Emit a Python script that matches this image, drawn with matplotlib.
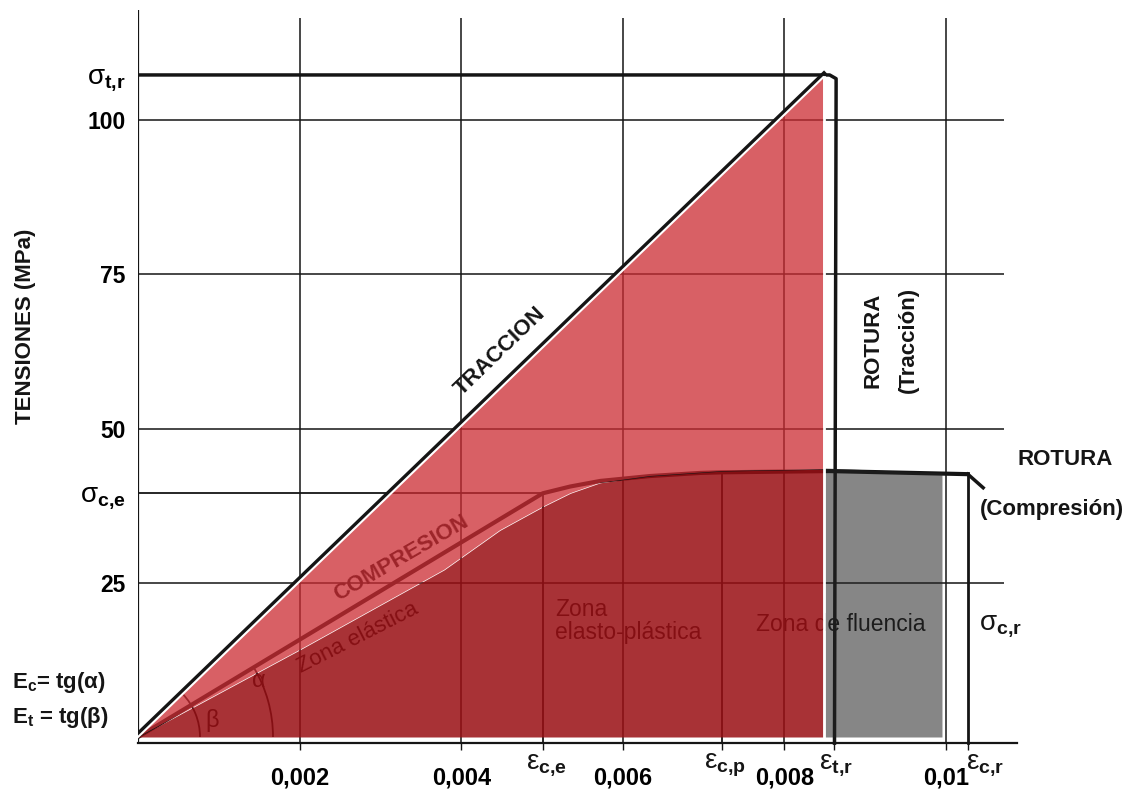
import matplotlib
matplotlib.use('Agg')
import matplotlib.pyplot as plt
from matplotlib.patches import Arc
from matplotlib.transforms import offset_copy
import numpy as np

plt.rcParams['font.family'] = ['Liberation Sans', 'DejaVu Sans']
plt.rcParams['mathtext.fontset'] = 'custom'
plt.rcParams['mathtext.rm'] = 'Liberation Sans'
plt.rcParams['mathtext.bf'] = 'Liberation Sans:bold'
plt.rcParams['mathtext.it'] = 'Liberation Sans:italic'

# ---- data (strain [-], stress [MPa]) ----
grid_x = [0.002, 0.004, 0.006, 0.008, 0.010]
grid_x_labels = ['0,002', '0,004', '0,006', '0,008', '0,01']
grid_y = [25, 50, 75, 100]

# traccion: straight line up to rupture
strain_trac = [0.0, 0.00851]
stress_trac = [0.0, 107.3]
sig_tr = 107.3
eps_tr = 0.00862

# compresion curve (black line)
strain_comp = [0.0, 0.00501, 0.00535, 0.00572, 0.00634, 0.00696, 0.00723, 0.00856, 0.01027]
stress_comp = [0.0, 39.5, 40.6, 41.5, 42.3, 42.8, 42.9, 43.1, 42.6]
eps_ce, sig_ce = 0.00501, 39.5
eps_cp, sig_cp = 0.00723, 42.9
eps_cr, sig_cr = 0.01027, 42.6
hook_strain = [0.01027, 0.01046]
hook_stress = [42.6, 40.4]

# coloured zones
strain_fill = [0.0, 0.0020, 0.00379, 0.00448, 0.00501, 0.00535, 0.00572, 0.00634, 0.00723, 0.00848]
stress_fill = [0.0, 14.1, 27.1, 33.5, 37.3, 39.5, 41.2, 42.3, 43.1, 43.4]
strain_gray = [0.0085, 0.00995]
stress_gray = [43.6, 42.8]

# ---- figure geometry (pixels) ----
W, H = 1127, 791
PX_X = 80800.0   # px per unit strain
PX_Y = 6.17      # px per MPa
x0_px, y0_px = 138, 737
xlim = (0.0, 0.0111)
ylim = (-1.5, 117.8)

fig = plt.figure(figsize=(W / 100, H / 100), dpi=100)
bottom_px = y0_px - ylim[0] * PX_Y
ax = fig.add_axes([x0_px / W, 1 - bottom_px / H,
                   (xlim[1] - xlim[0]) * PX_X / W,
                   (ylim[1] - ylim[0]) * PX_Y / H])
ax.set_xlim(xlim)
ax.set_ylim(ylim)

ink = '#151515'
ax_y = -1.0

# grid
ax.vlines(grid_x, ax_y, 116.5, color=ink, lw=1.1, zorder=1)
ax.hlines(grid_y, 0, 0.01072, color=ink, lw=1.1, zorder=1)
ax.vlines(0, ax_y, ylim[1], color=ink, lw=1.6, zorder=1)

# axis
for s in ['top', 'right', 'left']:
    ax.spines[s].set_visible(False)
ax.spines['bottom'].set_position(('data', ax_y))
ax.spines['bottom'].set_bounds(0, 0.01088)
ax.spines['bottom'].set_linewidth(1.6)
ax.spines['bottom'].set_color(ink)
ax.set_xticks(grid_x, labels=grid_x_labels)
ax.set_xticks([eps_ce, eps_cp, eps_tr, eps_cr], minor=True)
ax.tick_params(axis='x', which='both', length=5, width=1, color=ink, direction='out', pad=12)
for lbl in ax.get_xticklabels():
    lbl.set_fontsize(17)
    lbl.set_fontweight('bold')

ax.set_yticks([sig_ce] + grid_y + [sig_tr],
              labels=['σ$_{\\mathbf{c{,}e}}$', '25', '50', '75', '100', 'σ$_{\\mathbf{t{,}r}}$'])
ax.tick_params(axis='y', length=0, pad=9)
for lbl in ax.get_yticklabels():
    if lbl.get_text().startswith('σ'):
        lbl.set_fontsize(20)
    else:
        lbl.set_fontsize(16.5)
        lbl.set_fontweight('bold')

# black drawing lines
up_left = offset_copy(ax.transData, fig=fig, x=-1.6, y=1.6, units='dots')
ax.plot(strain_trac, stress_trac, color=ink, lw=3, zorder=2, transform=up_left)
ax.plot([0, eps_tr - 0.00006, eps_tr + 0.00002, eps_tr + 0.00002, eps_tr],
        [sig_tr, sig_tr, sig_tr - 0.6, sig_tr - 1.8, ax_y],
        color=ink, lw=2.5, zorder=2, solid_joinstyle='round')
ax.plot(strain_comp, stress_comp, color=ink, lw=3, zorder=2)
ax.plot(hook_strain, hook_stress, color=ink, lw=2.5, zorder=2)
ax.plot([eps_cr, eps_cr], [ax_y, sig_cr], color=ink, lw=2, zorder=2)
ax.plot([0, eps_ce], [sig_ce, sig_ce], color=ink, lw=1.3, zorder=2)
ax.plot([eps_ce, eps_ce], [ax_y, sig_ce], color=ink, lw=1.3, zorder=2)
ax.plot([eps_cp, eps_cp], [ax_y, sig_cp], color=ink, lw=1.3, zorder=2)

# angle arcs (Arc angles are taken in data space)
ang_t = np.degrees(np.arctan2(stress_trac[1], strain_trac[1]))
ang_c = np.degrees(np.arctan2(sig_ce, eps_ce))
for r, ang in [(62, ang_t), (135, ang_c)]:
    ax.add_patch(Arc((0, 0), 2 * r / PX_X, 2 * r / PX_Y, theta1=0, theta2=ang,
                     color=ink, lw=1.3, zorder=2))

# texts lying under the coloured overlay
ax.text(0.00326, 29.0, 'COMPRESION', rotation=30, fontsize=16, fontweight='bold',
        color=ink, ha='center', va='center', zorder=2)
ax.text(0.00272, 16.0, 'Zona elástica', rotation=27, fontsize=16,
        color=ink, ha='center', va='center', zorder=2)
ax.text(0.00516, 18.8, 'Zona\nelasto-plástica', fontsize=16.5, color=ink,
        ha='left', va='center', linespacing=1.0, zorder=2)
ax.text(0.0087, 18.2, 'Zona de fluencia', fontsize=16.5, color=ink,
        ha='center', va='center', zorder=2)
ax.text(0.00149, 9.0, 'α', fontsize=17, color=ink, ha='center', va='center', zorder=2)
ax.text(0.00092, 2.6, 'β', fontsize=17, color=ink, ha='center', va='center', zorder=2)

# coloured zones (semi transparent over the drawing)
x_red = strain_fill[-1]
y_red_top = np.interp(x_red, strain_trac, stress_trac)
light_x = [0.0, x_red, x_red] + strain_fill[::-1]
light_y = [0.0, y_red_top, stress_fill[-1]] + stress_fill[::-1]
ax.fill(light_x, light_y, color=(204 / 255, 43 / 255, 50 / 255), alpha=0.75, lw=0, zorder=3)
ax.fill_between(strain_fill, 0, stress_fill, color=(153 / 255, 14 / 255, 19 / 255),
                alpha=0.85, lw=0, zorder=3)
ax.fill_between(strain_gray, 0, stress_gray, color='#232323', alpha=0.55, lw=0, zorder=3)
ax.plot([0, x_red], [0, y_red_top], color='white', lw=1.5, zorder=4)
ax.plot([x_red + 0.00001] * 2, [0, y_red_top], color='white', lw=2, zorder=4)

# labels
lab = dict(fontsize=16, fontweight='bold', color=ink, ha='center', va='center', zorder=5)
ax.text(0.00448, 62.5, 'TRACCION', rotation=44, **lab)
ax.text(0.0091, 64.3, 'ROTURA', rotation=90, **lab)
ax.text(0.00953, 64.3, '(Tracción)', rotation=90, **lab)
ax.text(0.01147, 44.9, 'ROTURA', **lab)
ax.text(0.01131, 36.8, '(Compresión)', **lab)
ax.text(-0.00139, 66.6, 'TENSIONES (MPa)', rotation=90, **lab)

eps = dict(fontsize=20, color=ink, ha='center', va='center', zorder=5)
ax.text(0.00505, -4.6, 'ε$_{\\mathbf{c{,}e}}$', **eps)
ax.text(0.00726, -4.6, 'ε$_{\\mathbf{c{,}p}}$', **eps)
ax.text(0.00864, -4.6, 'ε$_{\\mathbf{t{,}r}}$', **eps)
ax.text(0.01048, -4.6, 'ε$_{\\mathbf{c{,}r}}$', **eps)
ax.text(0.01067, 18.0, 'σ$_{\\mathbf{c{,}r}}$', **eps)

ax.text(-0.00156, 8.8, 'E$_{\\mathbf{c}}$= tg(α)', fontsize=16, fontweight='bold',
        color=ink, ha='left', va='center')
ax.text(-0.00156, 3.1, 'E$_{\\mathbf{t}}$ = tg(β)', fontsize=16, fontweight='bold',
        color=ink, ha='left', va='center')

fig.savefig('out.png', dpi=100)
